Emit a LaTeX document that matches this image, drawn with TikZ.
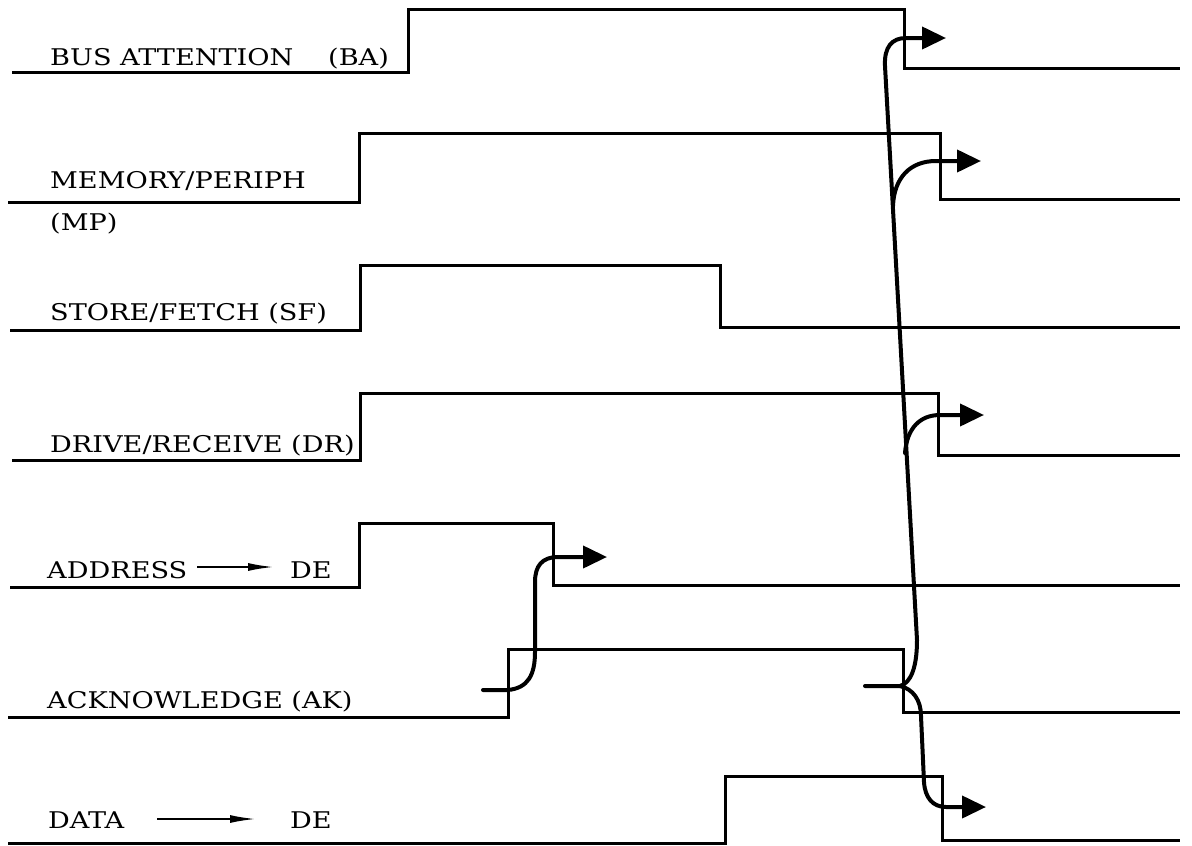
\documentclass[tikz,border=0pt]{standalone}
\usepackage{fontspec}
\usepackage{graphicx}
\usetikzlibrary{arrows.meta}
\newfontfamily\slabfont{DejaVu Serif}[FakeStretch=1.18]
\newcommand\sigtxt[1]{#1}
\begin{document}
\begin{tikzpicture}[x=1pt,y=-1pt,
  sig/.style={line width=3pt, line join=miter},
  causal/.style={line width=4pt, line cap=round, -{Triangle[length=24pt,width=22pt]}},
  lbl/.style={anchor=base west, inner sep=0pt, font=\slabfont\fontsize{23}{27}\selectfont},
  txtarrow/.style={line width=2pt, -{Latex[length=26pt,width=8pt]}}]
\useasboundingbox (0,0) rectangle (1192,846);

% signals
\draw[sig] (12,72) -- (408,72) -- (408,9) -- (904,9) -- (904,68) -- (1180,68);
\draw[sig] (8,202) -- (359,202) -- (359,133) -- (940,133) -- (940,199) -- (1180,199);
\draw[sig] (10,330) -- (360,330) -- (360,265) -- (720,265) -- (720,327) -- (1180,327);
\draw[sig] (12,460) -- (360,460) -- (360,393) -- (938,393) -- (938,455) -- (1180,455);
\draw[sig] (10,587) -- (359,587) -- (359,523) -- (553,523) -- (553,585) -- (1180,585);
\draw[sig] (8,717) -- (508,717) -- (508,649) -- (903,649) -- (903,712) -- (1180,712);
\draw[sig] (8,843) -- (725,843) -- (725,776) -- (942,776) -- (942,840) -- (1180,840);

% labels
\node[lbl] (ba) at (50,65) {\sigtxt{BUS ATTENTION}};
\node[lbl] (bab) at (328,65) {\sigtxt{(BA)}};
\node[lbl] (mp) at (50,188) {\sigtxt{MEMORY/PERIPH}};
\node[lbl] (mpb) at (50,230) {\sigtxt{(MP)}};
\node[lbl] (sf) at (50,320) {\sigtxt{STORE/FETCH (SF)}};
\node[lbl] (dr) at (50,452) {\sigtxt{DRIVE/RECEIVE (DR)}};
\node[lbl] (ad) at (47,578) {\sigtxt{ADDRESS}};
\node[lbl] (adde) at (290,578) {\sigtxt{DE}};
\node[lbl] (ak) at (47,708) {\sigtxt{ACKNOWLEDGE (AK)}};
\node[lbl] (da) at (48,828) {\sigtxt{DATA}};
\node[lbl] (dade) at (290,828) {\sigtxt{DE}};
\coordinate (ada1) at (197,567);
\coordinate (ada2) at (274,567);
\coordinate (daa1) at (157,819);
\coordinate (daa2) at (256,819);
\draw[txtarrow] (ada1) -- (ada2);
\draw[txtarrow] (daa1) -- (daa2);

% causal arrow: AK rise -> ADDRESS fall
\coordinate (a0) at (483,690);
\coordinate (a1) at (607,557);
\draw[causal] (a0) -- (508,690) .. controls (528,688) and (535,675) .. (535,652)
  -- (535,582) .. controls (535,566) and (542,557) .. (558,557) -- (a1);

% causal arrows: AK fall -> BA, MP, DR, DATA
\coordinate (b0) at (865,686);
\coordinate (bj) at (900,686);
\coordinate (bba) at (946,38);
\coordinate (bmp) at (981,161);
\coordinate (bdr) at (984,415);
\coordinate (bda) at (986,807);
\draw[causal] (b0) -- (bj) .. controls (911,683) and (917,667) .. (917,640)
  -- (885,66) .. controls (884,47) and (892,38) .. (906,38) -- (bba);
\draw[causal] (893,206) .. controls (894,178) and (910,161) .. (936,161) -- (bmp);
\draw[causal] (905,453) .. controls (907,428) and (920,415) .. (940,415) -- (bdr);
\draw[causal] (bj) .. controls (913,689) and (921,700) .. (921,716)
  -- (924,782) .. controls (925,798) and (933,807) .. (946,807) -- (bda);
\end{tikzpicture}
\end{document}
